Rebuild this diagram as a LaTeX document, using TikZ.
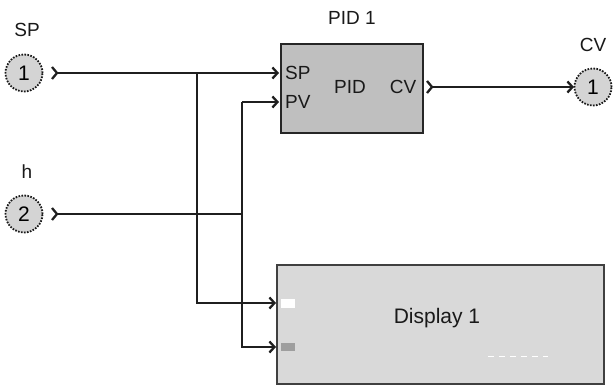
\documentclass[tikz,border=0pt]{standalone}
\usepackage{fontspec}
\setmainfont{Liberation Sans}
\usetikzlibrary{arrows.meta}
\begin{document}
\begin{tikzpicture}[x=1pt,y=-1pt,
  lbl/.style={font=\fontsize{19}{21}\selectfont, inner sep=0pt, text=black!90},
  inport/.style={circle, draw=black!90, fill=black!17, line width=1.8pt, dash pattern=on 1.6pt off 1.4pt, minimum size=37pt, inner sep=0pt, font=\fontsize{21}{23}\selectfont},
  wire/.style={line width=2.3pt, draw=black!88},
  tip/.style={-{Straight Barb[length=5pt,width=11pt,line width=2.3pt]}},
  chev/.style={line width=2.3pt, draw=black!88},
  pidbox/.style={draw=black!85, fill=black!25, line width=2.4pt, inner sep=0pt},
  dispbox/.style={draw=black!75, fill=black!15, line width=2.4pt, inner sep=0pt}
]
\useasboundingbox (0,0) rectangle (615,390);
\fill[white] (0,0) rectangle (615,390);

% inports
\node[inport] (sp) at (24,73) {1};
\node[lbl] (splab) at (27,30) {SP};
\node[inport] (h) at (24,214) {2};
\node[lbl] (hlab) at (27,172) {h};

% PID block
\node[pidbox, minimum width=142pt, minimum height=89pt] (pid) at (352,88.5) {};
\node[lbl] (pidlab) at (352,18) {PID 1};
\node[lbl, anchor=west] (pidsp) at (285,73) {SP};
\node[lbl, anchor=west] (pidpv) at (285,102) {PV};
\node[lbl] (pidtxt) at (350,87) {PID};
\node[lbl] (pidcv) at (403,87) {CV};

% outport
\node[inport] (cv) at (593,87) {1};
\node[lbl] (cvlab) at (593,45) {CV};

% Display block
\node[dispbox, minimum width=327pt, minimum height=119pt] (disp) at (440.5,324.5) {};
\node[font=\fontsize{21}{23}\selectfont, inner sep=1pt, text=black!90] (disptxt) at (437,318) {Display 1};
\fill[white] (281,299) rectangle (295,308);
\fill[black!38] (281,343) rectangle (295,351);
\draw[white, line width=1pt, dash pattern=on 6pt off 5pt] (488,356) -- (548,356);

% coordinates
\coordinate (spout) at (57,73);
\coordinate (hout) at (57,214);
\coordinate (pidout) at (432,87);
\coordinate (pidin1) at (279,73);
\coordinate (pidin2) at (279,102);
\coordinate (cvin) at (574,87);
\coordinate (j1) at (197,73);
\coordinate (j2) at (242,214);
\coordinate (dispin1) at (276,303);
\coordinate (dispin2) at (276,347);
\coordinate (pvcorner) at (242,102);

% port chevrons
\draw[chev] ([shift={(-5,-6)}]spout) -- (spout) -- ([shift={(-5,6)}]spout);
\draw[chev] ([shift={(-5,-6)}]hout) -- (hout) -- ([shift={(-5,6)}]hout);
\draw[chev] ([shift={(-5,-6)}]pidout) -- (pidout) -- ([shift={(-5,6)}]pidout);

% wires
\draw[wire, tip] (spout) -- (pidin1);
\draw[wire] (hout) -- (j2);
\draw[wire, tip] (j1) |- (dispin1);
\draw[wire, tip] (pvcorner) |- (dispin2);
\draw[wire, tip] (pvcorner) -- (pidin2);
\draw[wire, tip] (pidout) -- (cvin);
\end{tikzpicture}
\end{document}
